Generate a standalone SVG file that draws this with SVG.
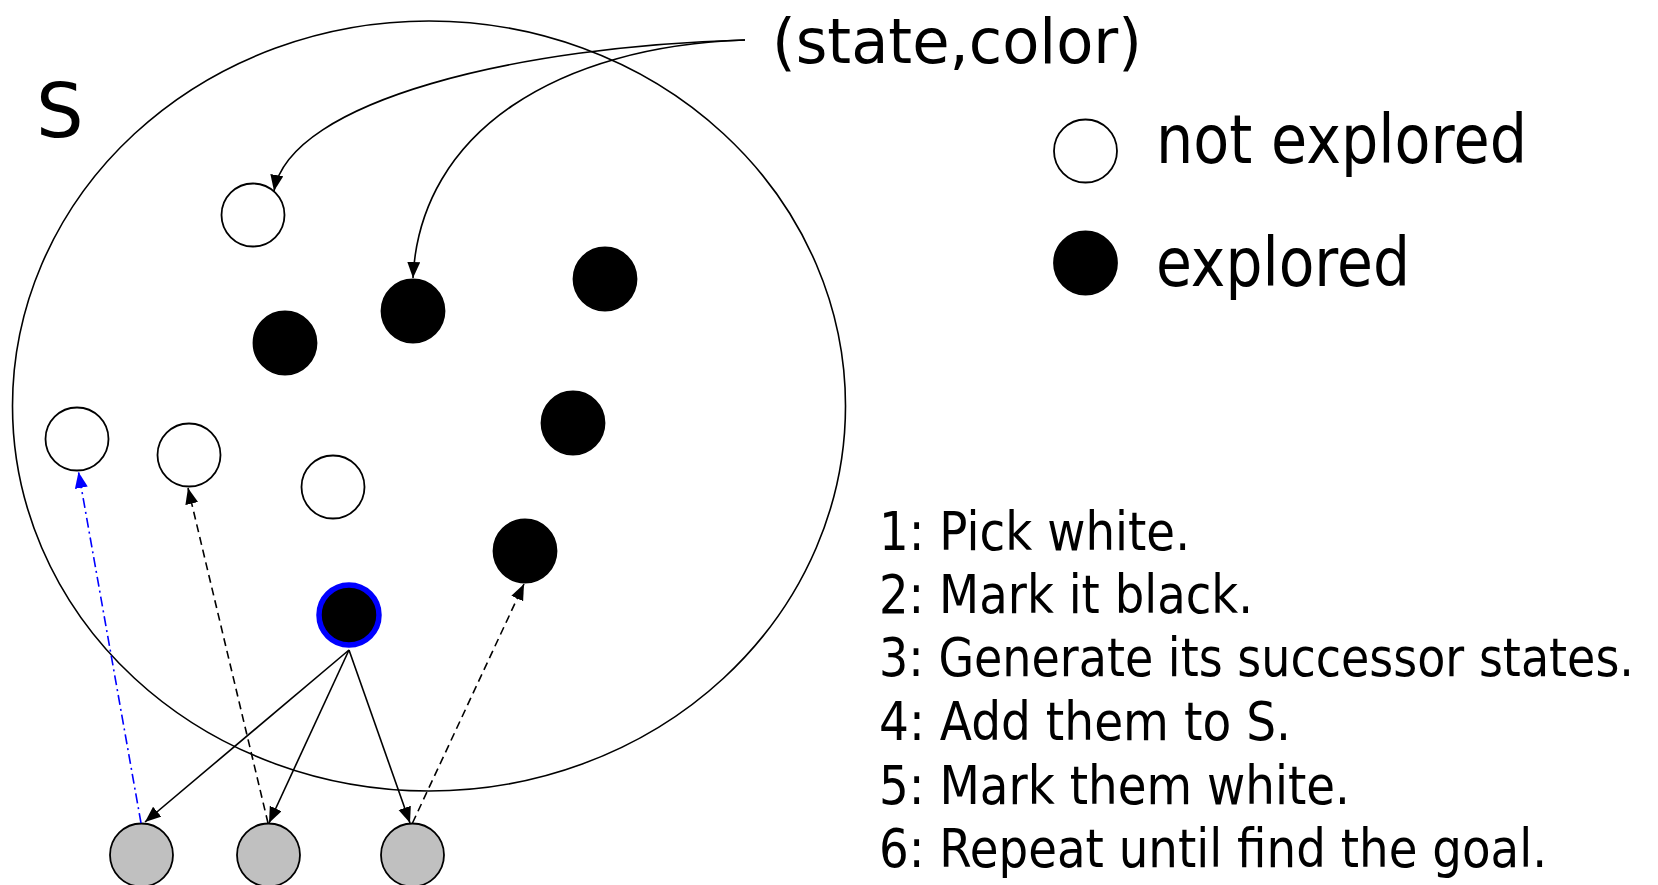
<svg xmlns="http://www.w3.org/2000/svg" width="1658" height="885" viewBox="0 0 1658 885">
  <style>
    .set { fill: none; stroke: #000; stroke-width: 1.6; }
    .white { fill: #fff; stroke: #000; stroke-width: 1.8; }
    .black { fill: #000; stroke: #000; stroke-width: 1.8; }
    .gray { fill: #c0c0c0; stroke: #000; stroke-width: 1.8; }
    .current { fill: #000; stroke: #0000ff; stroke-width: 5.5; }
    .edge { fill: none; stroke: #000; stroke-width: 1.6; }
    .dashed { stroke-dasharray: 8 5; }
    .dashdot { fill: none; stroke: #0000ff; stroke-width: 1.6; stroke-dasharray: 10 4 2 4; }
    .hand { font-family: "DejaVu Sans", "Noto Sans", sans-serif; fill: #000; }
    .steps { font-family: "DejaVu Sans", "Liberation Sans", sans-serif; font-size: 53px; fill: #000; }
  </style>
  <defs>
    <marker id="arrow" markerUnits="userSpaceOnUse" markerWidth="17" markerHeight="14" refX="16" refY="6.5" orient="auto">
      <path d="M0,0 L16,6.5 L0,13 z" fill="#000"/>
    </marker>
    <marker id="arrow-blue" markerUnits="userSpaceOnUse" markerWidth="17" markerHeight="14" refX="16" refY="6.5" orient="auto">
      <path d="M0,0 L16,6.5 L0,13 z" fill="#0000ff"/>
    </marker>
  </defs>

  <!-- the state set S -->
  <g id="set-S">
    <ellipse class="set" cx="429" cy="406" rx="416.5" ry="385"/>
    <text class="hand" x="36" y="137" font-size="75">S</text>
  </g>

  <!-- states inside S -->
  <g id="state-w1"><circle class="white" cx="253" cy="215" r="31.5"/></g>
  <g id="state-b1"><circle class="black" cx="413" cy="311" r="31.5"/></g>
  <g id="state-b2"><circle class="black" cx="285" cy="343" r="31.5"/></g>
  <g id="state-b3"><circle class="black" cx="605" cy="279" r="31.5"/></g>
  <g id="state-b4"><circle class="black" cx="573" cy="423" r="31.5"/></g>
  <g id="state-w2"><circle class="white" cx="77" cy="439" r="31.5"/></g>
  <g id="state-w3"><circle class="white" cx="189" cy="455" r="31.5"/></g>
  <g id="state-w4"><circle class="white" cx="333" cy="487" r="31.5"/></g>
  <g id="state-b5"><circle class="black" cx="525" cy="551" r="31.5"/></g>
  <g id="state-current"><circle class="current" cx="349" cy="615" r="30"/></g>

  <!-- successor states -->
  <g id="succ-1"><circle class="gray" cx="141.5" cy="855" r="31.5"/></g>
  <g id="succ-2"><circle class="gray" cx="268.5" cy="855" r="31.5"/></g>
  <g id="succ-3"><circle class="gray" cx="412.5" cy="855" r="31.5"/></g>

  <!-- connectors -->
  <g id="connectors">
    <path class="edge" d="M745,40 C520,46 290,100 274,191" marker-end="url(#arrow)"/>
    <path class="edge" d="M745,40 C560,46 420,130 413,278" marker-end="url(#arrow)"/>
    <line class="edge" x1="349" y1="650" x2="145" y2="822" marker-end="url(#arrow)"/>
    <line class="edge" x1="349" y1="650" x2="269" y2="823" marker-end="url(#arrow)"/>
    <line class="edge" x1="349" y1="650" x2="410" y2="823" marker-end="url(#arrow)"/>
    <line class="edge dashed" x1="268" y1="823" x2="188" y2="488" marker-end="url(#arrow)"/>
    <line class="edge dashed" x1="412.5" y1="823" x2="524" y2="584" marker-end="url(#arrow)"/>
    <line class="dashdot" x1="141" y1="823" x2="78.5" y2="472" marker-end="url(#arrow-blue)"/>
  </g>

  <!-- label and legend -->
  <g id="label-state-color">
    <text class="hand" x="772" y="63" font-size="62" textLength="370" lengthAdjust="spacingAndGlyphs">(state,color)</text>
  </g>
  <g id="legend-not-explored">
    <circle class="white" cx="1085.5" cy="151" r="31.5"/>
    <text class="hand" x="1156" y="163" font-size="67" textLength="371" lengthAdjust="spacingAndGlyphs">not explored</text>
  </g>
  <g id="legend-explored">
    <circle class="black" cx="1085.5" cy="263" r="31.5"/>
    <text class="hand" x="1156" y="286" font-size="67" textLength="254" lengthAdjust="spacingAndGlyphs">explored</text>
  </g>

  <!-- algorithm steps -->
  <g id="steps">
    <text class="steps" x="879" y="550" textLength="311" lengthAdjust="spacingAndGlyphs">1: Pick white.</text>
    <text class="steps" x="879" y="613" textLength="374" lengthAdjust="spacingAndGlyphs">2: Mark it black.</text>
    <text class="steps" x="879" y="676" textLength="755" lengthAdjust="spacingAndGlyphs">3: Generate its successor states.</text>
    <text class="steps" x="879" y="740" textLength="412" lengthAdjust="spacingAndGlyphs">4: Add them to S.</text>
    <text class="steps" x="879" y="804" textLength="471" lengthAdjust="spacingAndGlyphs">5: Mark them white.</text>
    <text class="steps" x="879" y="867" textLength="668" lengthAdjust="spacingAndGlyphs">6: Repeat until find the goal.</text>
  </g>
</svg>
